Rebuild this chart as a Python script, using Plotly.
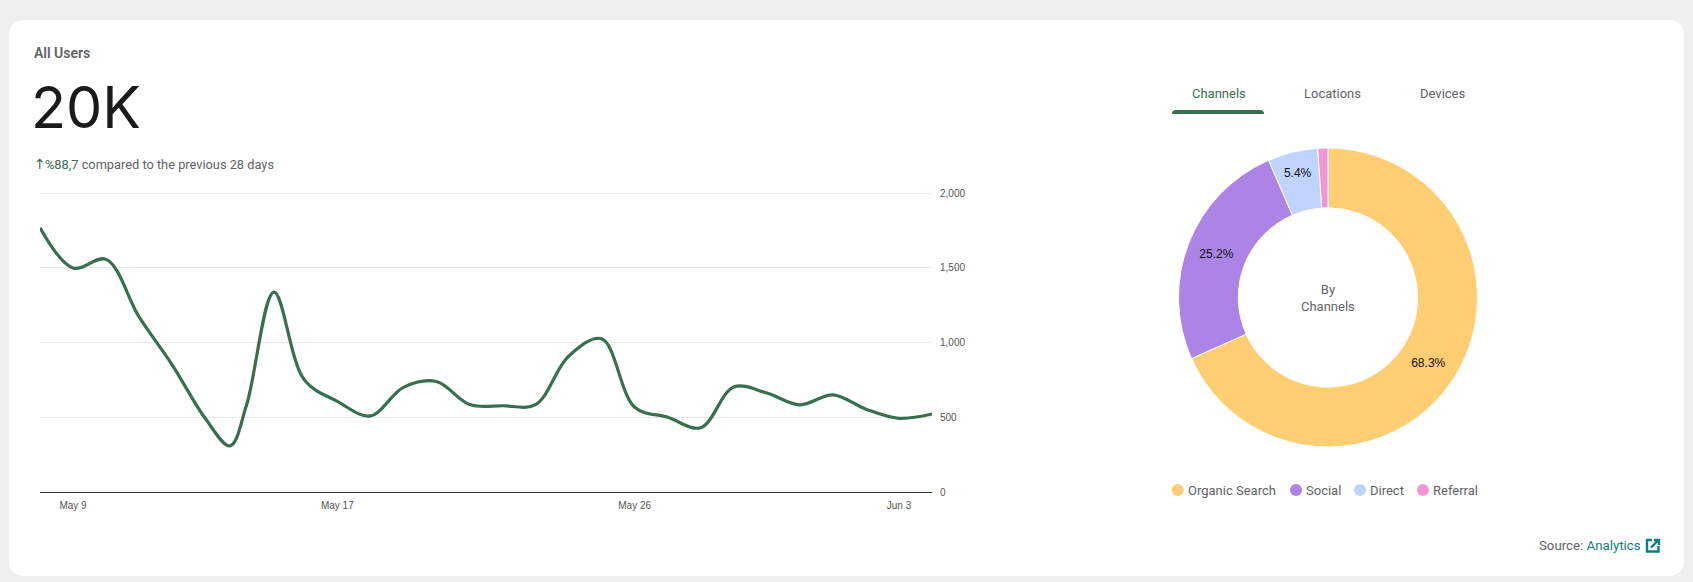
import plotly.graph_objects as go

# page size in pixels
W = 1693
H = 582

# line chart data (extra points around the mid May dip)
days = ["2024-05-08", "2024-05-09", "2024-05-10", "2024-05-11", "2024-05-12", "2024-05-13",
        "2024-05-13 18:00", "2024-05-14 06:00", "2024-05-15 02:00", "2024-05-16",
        "2024-05-17", "2024-05-18", "2024-05-19", "2024-05-20", "2024-05-21", "2024-05-22",
        "2024-05-23", "2024-05-24", "2024-05-25", "2024-05-26", "2024-05-27", "2024-05-28",
        "2024-05-29", "2024-05-30", "2024-05-31", "2024-06-01", "2024-06-02", "2024-06-03",
        "2024-06-04"]
users = [1768, 1498, 1556, 1171, 851, 493, 308, 580, 1337, 750, 606, 509, 700, 739,
         585, 577, 585, 908, 1025, 567, 500, 430, 703, 662, 583, 650, 554, 493, 522]
date_ticks = ["2024-05-09", "2024-05-17", "2024-05-26", "2024-06-03"]
date_labels = ["May 9", "May 17", "May 26", "Jun 3"]
y_ticks = [0, 500, 1000, 1500, 2000]

# donut data
channels = ["Organic Search", "Social", "Direct", "Referral"]
shares = [68.3, 25.2, 5.4, 1.1]
share_labels = ["68.3%", "25.2%", "5.4%", ""]
channel_colors = ["#FFCD72", "#AB84E6", "#BFD3FF", "#F095DA"]

GREEN = "#386F4F"
GREY = "#5F6368"
TEAL = "#0E7F80"
UI_FONT = "Roboto"


def fx(x):
    return x / W


def fy(y):
    return 1 - y / H


def rounded(x0, y0, x1, y1, r):
    # rounded rectangle as svg path, paper coords
    return (f"M {fx(x0 + r)} {fy(y0)} L {fx(x1 - r)} {fy(y0)} Q {fx(x1)} {fy(y0)} {fx(x1)} {fy(y0 + r)} "
            f"L {fx(x1)} {fy(y1 - r)} Q {fx(x1)} {fy(y1)} {fx(x1 - r)} {fy(y1)} "
            f"L {fx(x0 + r)} {fy(y1)} Q {fx(x0)} {fy(y1)} {fx(x0)} {fy(y1 - r)} "
            f"L {fx(x0)} {fy(y0 + r)} Q {fx(x0)} {fy(y0)} {fx(x0 + r)} {fy(y0)} Z")


def label(x, y, text, size=13, color=GREY, anchor="left", family=UI_FONT, weight=None):
    return dict(x=fx(x), y=fy(y), xref="paper", yref="paper", text=text, showarrow=False,
                xanchor=anchor, yanchor="middle", align=anchor,
                font=dict(size=size, color=color, family=family, weight=weight))


fig = go.Figure()

fig.add_trace(go.Scatter(
    x=days, y=users, mode="lines",
    line=dict(color=GREEN, width=3.2, shape="spline", smoothing=1),
    cliponaxis=False, showlegend=False, hoverinfo="x+y",
))

fig.add_trace(go.Pie(
    labels=channels, values=shares, text=share_labels, textinfo="text",
    textposition="inside", insidetextorientation="horizontal",
    textfont=dict(family="Liberation Sans", size=12, color="#111111"),
    marker=dict(colors=channel_colors, line=dict(color="white", width=1)),
    hole=0.6, sort=False, direction="clockwise", rotation=0, showlegend=False,
    domain=dict(x=[fx(1178.5), fx(1477.5)], y=[fy(447), fy(148)]),
))

shapes = [
    # white card
    dict(type="path", xref="paper", yref="paper", path=rounded(9, 20, 1684, 576, 16),
         fillcolor="white", line=dict(width=0), layer="below"),
    # active tab underline
    dict(type="path", xref="paper", yref="paper",
         path=(f"M {fx(1172)} {fy(114)} Q {fx(1172)} {fy(110)} {fx(1176)} {fy(110)} L {fx(1260)} {fy(110)} "
               f"Q {fx(1264)} {fy(110)} {fx(1264)} {fy(114)} Z"),
         fillcolor=GREEN, line=dict(width=0)),
    # external link icon
    dict(type="path", xref="paper", yref="paper",
         path=(f"M {fx(1652)} {fy(540)} L {fx(1647)} {fy(540)} L {fx(1647)} {fy(551.5)} L {fx(1658.5)} {fy(551.5)} "
               f"L {fx(1658.5)} {fy(546)}"),
         line=dict(color=TEAL, width=2.4)),
    dict(type="path", xref="paper", yref="paper",
         path=(f"M {fx(1651)} {fy(547.5)} L {fx(1658)} {fy(540.5)} M {fx(1654)} {fy(540)} L {fx(1659)} {fy(540)} "
               f"L {fx(1659)} {fy(545)}"),
         line=dict(color=TEAL, width=2.4)),
]

annotations = [
    label(32, 53, "All Users", size=14, weight=600),
    label(29, 107, "20K", size=57.5, color="#181C18", family="Inter"),
    label(32, 164, "↑", size=14, color=GREEN, family="DejaVu Sans"),
    label(43, 164, f'<span style="color:{GREEN}">%88,7</span> compared to the previous 28 days', size=12.8),
    label(1218.5, 94, "Channels", color=GREEN, anchor="center"),
    label(1332, 94, "Locations", anchor="center"),
    label(1442, 94, "Devices", anchor="center"),
    label(1328, 297.5, "By<br>Channels", size=13, anchor="center"),
    label(1537, 545.5, f'Source: <span style="color:{TEAL}">Analytics</span>', size=13.25),
]

# legend drawn by hand, the built-in one only has square swatches for pies
dot_x = [1177.7, 1296, 1360, 1423]
for name, color, cx in zip(channels, channel_colors, dot_x):
    shapes.append(dict(type="circle", xref="paper", yref="paper", x0=fx(cx - 6), x1=fx(cx + 6),
                       y0=fy(496), y1=fy(484), fillcolor=color, line=dict(width=0)))
    annotations.append(label(cx + 8, 490.5, name, size=13))

fig.update_layout(
    width=W, height=H, autosize=False,
    margin=dict(l=0, r=0, t=0, b=0),
    paper_bgcolor="#EFEFEF", plot_bgcolor="rgba(0,0,0,0)",
    shapes=shapes, annotations=annotations,
    xaxis=dict(domain=[fx(40), fx(932)], range=[days[0], days[-1]], type="date", automargin=False,
               tickmode="array", tickvals=date_ticks, ticktext=date_labels,
               showgrid=False, zeroline=False, showline=True, linecolor="#333333", linewidth=1,
               ticks="", ticklabelstandoff=4, tickfont=dict(family="Liberation Sans", size=10, color="#555555")),
    # a bit of room above 2,000 so its gridline still gets drawn
    yaxis=dict(domain=[fy(492), fy(191.5)], range=[0, 2010], side="right", anchor="x", automargin=False,
               tickmode="array", tickvals=y_ticks, tickformat=",",
               showgrid=True, gridcolor="#E9E9EC", gridwidth=1, zeroline=False, showline=False,
               ticks="", ticklabelstandoff=7, tickfont=dict(family="Liberation Sans", size=10, color="#555555")),
)

fig.write_html("out.html", config=dict(displayModeBar=False),
               post_script="document.body.style.margin='0';document.body.style.overflow='hidden';")
